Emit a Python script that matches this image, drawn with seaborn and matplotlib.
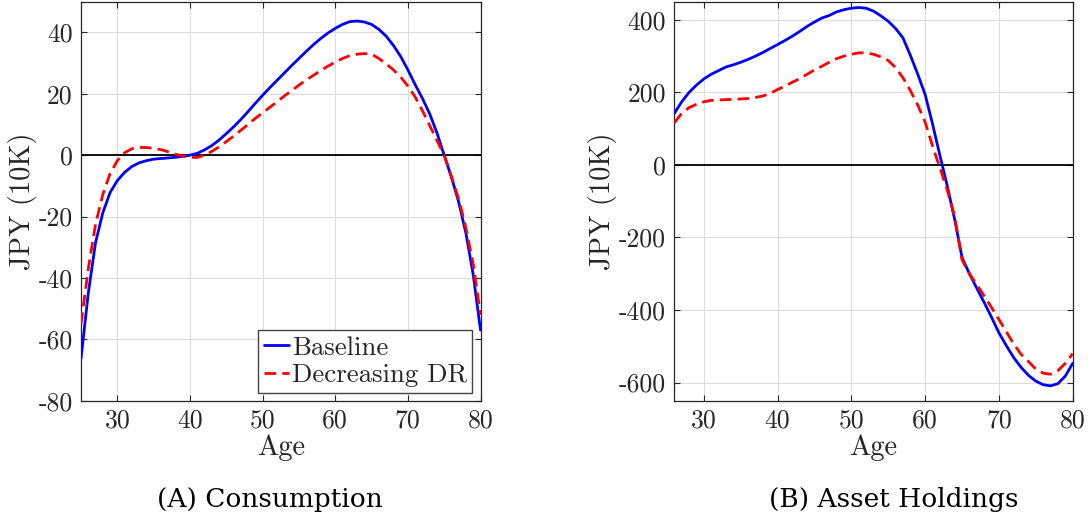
import numpy as np
import pandas as pd
import matplotlib
matplotlib.use("Agg")
import matplotlib.pyplot as plt
import seaborn as sns

# ---------------- data ----------------
ages_c = list(range(25, 81))
cons_baseline = [-66.3, -45.0, -28.5, -18.8, -12.2, -8.3, -5.6, -3.7, -2.5, -1.8,
                 -1.3, -1.1, -0.9, -0.7, -0.4, 0.0, 0.6, 1.7, 3.1, 4.9,
                 7.0, 9.2, 11.6, 14.2, 16.9, 19.5, 22.0, 24.4, 26.8, 29.2,
                 31.5, 33.8, 36.0, 38.0, 39.8, 41.3, 42.6, 43.5, 43.7, 43.4,
                 42.6, 41.0, 38.8, 35.8, 32.2, 27.8, 23.0, 18.5, 13.5, 7.3,
                 0.0, -7.2, -15.3, -25.5, -39.0, -57.0]
cons_decreasing = [-55.0, -37.0, -22.5, -12.8, -6.0, -1.8, 0.8, 2.1, 2.5, 2.5,
                   2.2, 1.8, 1.1, 0.3, -0.3, -0.7, -0.75, 0.0, 1.2, 2.7,
                   4.4, 6.2, 8.1, 10.0, 12.0, 13.8, 15.6, 17.4, 19.3, 21.0,
                   22.8, 24.5, 26.0, 27.6, 29.0, 30.3, 31.5, 32.4, 32.9, 33.1,
                   32.9, 31.5, 29.8, 27.8, 25.5, 22.5, 19.0, 14.5, 9.7, 4.8,
                   0.0, -7.0, -14.3, -23.8, -35.6, -52.0]

ages_a = list(range(26, 81))
asset_baseline = [142, 174, 200, 220, 237, 250, 260, 270, 276, 283,
                  291, 300, 310, 321, 332, 343, 355, 368, 382, 394,
                  405, 412, 422, 428, 432, 434, 432, 424, 411, 396,
                  376, 350, 302, 250, 194, 113, 26, -58, -150, -255,
                  -300, -340, -379, -420, -463, -498, -531, -558, -580, -596,
                  -606, -609, -603, -582, -547]
asset_decreasing = [116, 142, 158, 167, 174, 178, 179, 180, 181, 182,
                    183, 186, 190, 197, 208, 217, 228, 238, 250, 262,
                    272, 283, 293, 300, 305, 309, 309, 305, 298, 288,
                    268, 240, 205, 165, 118, 52, -8, -70, -142, -262,
                    -300, -330, -361, -393, -426, -460, -493, -522, -542, -563,
                    -574, -577, -567, -547, -520]

series_names = ["Baseline", "Decreasing DR"]
captions = ["(A) Consumption", "(B) Asset Holdings"]
xlabel = "Age"
ylabel = "JPY (10K)"
cons_yticks = [-80, -60, -40, -20, 0, 20, 40]
asset_yticks = [-600, -400, -200, 0, 200, 400]
xticks = [30, 40, 50, 60, 70, 80]

# ---------------- style ----------------
sns.set_style("ticks")
plt.rcParams["font.family"] = ["cmr10", "DejaVu Serif"]
plt.rcParams["axes.unicode_minus"] = False
plt.rcParams["axes.formatter.use_mathtext"] = False

dark = "#262626"

fig = plt.figure(figsize=(10.88, 5.23), dpi=100)
ax1 = fig.add_axes([81 / 1088, 1 - 400.7 / 523, (480.5 - 81) / 1088, (400.7 - 1.7) / 523])
ax2 = fig.add_axes([674.3 / 1088, 1 - 400.7 / 523, (1072.7 - 674.3) / 1088, (400.7 - 1.7) / 523])

palette = {"Baseline": "#0000ff", "Decreasing DR": "#ff0000"}
dashes = {"Baseline": "", "Decreasing DR": (4.2, 2.2)}


def make_df(ages, base, dec):
    return pd.DataFrame({
        "Age": list(ages) * 2,
        "value": list(base) + list(dec),
        "Scenario": [series_names[0]] * len(ages) + [series_names[1]] * len(ages),
    })


df_c = make_df(ages_c, cons_baseline, cons_decreasing)
df_a = make_df(ages_a, asset_baseline, asset_decreasing)

for ax, df, xlim, ylim, yticks in [
    (ax1, df_c, (25, 80), (-80, 50), cons_yticks),
    (ax2, df_a, (26, 80), (-650, 450), asset_yticks),
]:
    ax.axhline(0, color="black", lw=1.3, zorder=1.5)
    sns.lineplot(data=df, x="Age", y="value", hue="Scenario", style="Scenario",
                 palette=palette, dashes=dashes, lw=2.0, estimator=None,
                 sort=False, legend=False, ax=ax, zorder=3)
    ax.set_xlim(*xlim)
    ax.set_ylim(*ylim)
    ax.set_xticks(xticks)
    ax.set_yticks(yticks)
    ax.set_xticklabels([str(t) for t in xticks])
    ax.set_yticklabels([str(t) for t in yticks])
    ax.grid(True, color="#dcdcdc", lw=0.8, zorder=0)
    ax.set_axisbelow(True)
    ax.tick_params(direction="in", length=4.5, width=0.8, color=dark,
                   top=True, right=True, labelsize=18.5, labelcolor=dark, pad=6)
    for s in ax.spines.values():
        s.set_color(dark)
        s.set_linewidth(0.9)
        s.set_visible(True)
    ax.set_xlabel(xlabel, fontsize=20.5, color=dark, labelpad=1)
    ax.set_ylabel(ylabel, fontsize=20.5, color=dark, labelpad=1)

# legend on the consumption panel
handles = [l for l in ax1.get_lines() if l.get_color() in ("#0000ff", "#ff0000")]
leg = ax1.legend(handles[:2], series_names, loc="lower right", fontsize=19.3,
                 frameon=True, fancybox=False, framealpha=1, edgecolor="#444444",
                 handlelength=0.95, handletextpad=0.1, borderpad=0.2,
                 labelspacing=0.15, borderaxespad=0.3)
leg.get_frame().set_linewidth(1.0)
for t in leg.get_texts():
    t.set_color(dark)

fig.text(270 / 1088, 1 - 500 / 523, captions[0], ha="center", va="center",
         fontsize=19, family=["DejaVu Serif"], color="black")
fig.text(894 / 1088, 1 - 500 / 523, captions[1], ha="center", va="center",
         fontsize=19, family=["DejaVu Serif"], color="black")

fig.savefig("out.png", dpi=100)
